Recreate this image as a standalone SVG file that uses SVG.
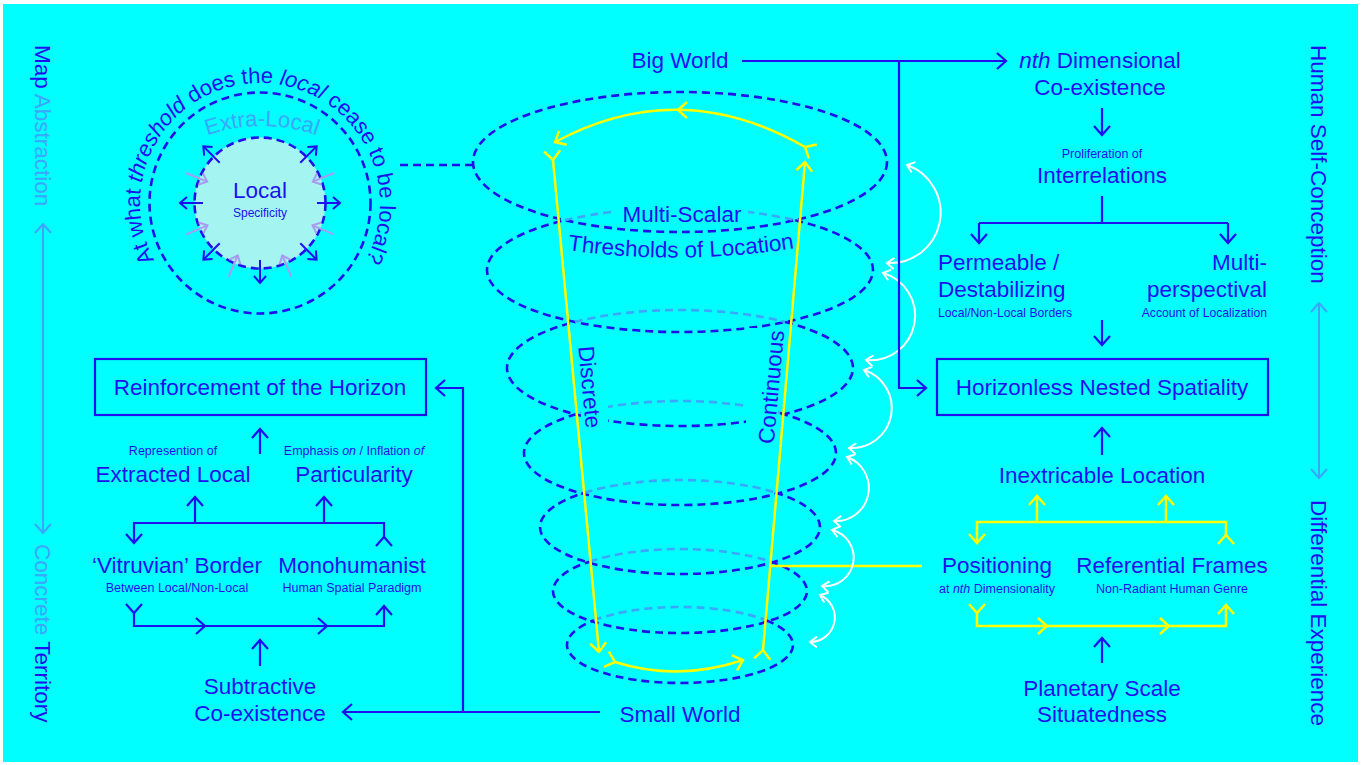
<svg xmlns="http://www.w3.org/2000/svg" width="1366" height="765" viewBox="0 0 1366 765">
<defs>
<style>
text{font-family:"Liberation Sans",Arial,Helvetica,sans-serif;fill:#2010f0}
.L{font-size:22.5px}
.s{font-size:12.5px}
.t{font-size:12.2px}
.m{text-anchor:middle}
.e{text-anchor:end}
.lt{fill:#3aa6ff}
.i{font-style:italic}
.c{fill:none;stroke:#2010f0;stroke-width:2.2}
.y{fill:none;stroke:#ffff00;stroke-width:2.5}
.w{fill:none;stroke:#ffffff;stroke-width:2}
.d{fill:none;stroke:#2010f0;stroke-width:2.6;stroke-dasharray:8 5}
.dl{fill:none;stroke:#3aa6ff;stroke-width:2.6;stroke-dasharray:8 5}
.ko{fill:#00ffff}
</style>
<marker id="mb" markerUnits="userSpaceOnUse" orient="auto" overflow="visible"><path d="M-9,-8 L0,0 L-9,8" fill="none" stroke="#2010f0" stroke-width="2.2"/></marker>
<marker id="my" markerUnits="userSpaceOnUse" orient="auto" overflow="visible"><path d="M-9,-8 L0,0 L-9,8" fill="none" stroke="#ffff00" stroke-width="2.5"/></marker>
<marker id="mw" markerUnits="userSpaceOnUse" orient="auto-start-reverse" overflow="visible"><path d="M-7,-5.5 L0,0 L-7,5.5" fill="none" stroke="#ffffff" stroke-width="2"/></marker>
<marker id="ml" markerUnits="userSpaceOnUse" orient="auto-start-reverse" overflow="visible"><path d="M-9,-8 L0,0 L-9,8" fill="none" stroke="#3aa6ff" stroke-width="2"/></marker>
<marker id="mc" markerUnits="userSpaceOnUse" orient="auto" overflow="visible"><path d="M-7,-6 L0,0 L-7,6" fill="none" stroke="#2010f0" stroke-width="2"/></marker>
<marker id="mp" markerUnits="userSpaceOnUse" orient="auto" overflow="visible"><path d="M-7,-6 L0,0 L-7,6" fill="none" stroke="#a99cf0" stroke-width="2"/></marker>
<path id="qp" d="M260,323 A120,120 0 1 1 260,83 A120,120 0 1 1 260,323"/>
<path id="xp" d="M97,291 A165,165 0 0 1 427,291"/>
<path id="tp" d="M560,249 Q680,267 802,247"/>
</defs>

<rect width="1366" height="765" fill="#ffffff"/>
<rect x="3" y="4" width="1355" height="758" fill="#00ffff"/>

<!-- side scales -->
<g id="scale-left">
  <text class="L" transform="translate(35,45) rotate(90)">Map<tspan class="lt"> Abstraction</tspan></text>
  <path d="M43,224 V533" fill="none" stroke="#3aa6ff" stroke-width="2" marker-start="url(#ml)" marker-end="url(#ml)"/>
  <text class="L" transform="translate(35,544) rotate(90)"><tspan class="lt">Concrete </tspan>Territory</text>
</g>
<g id="scale-right">
  <text class="L" transform="translate(1311,45) rotate(90)">Human Self-Conception</text>
  <path d="M1319,303 V478" fill="none" stroke="#3aa6ff" stroke-width="2" marker-start="url(#ml)" marker-end="url(#ml)"/>
  <text class="L" transform="translate(1311,500) rotate(90)">Differential Experience</text>
</g>

<!-- stacked thresholds: front arcs dark, hidden back arcs light -->
<g id="thresholds">
  <ellipse cx="680" cy="162" rx="207" ry="70" class="d"/>
  <path class="d" d="M795,220.2 A193,62 0 1 1 565,220.2"/>
  <path class="dl" d="M565,220.2 A193,62 0 0 1 795,220.2"/>
  <path class="d" d="M785,321.9 A173,58 0 1 1 575,321.9"/>
  <path class="dl" d="M575,321.9 A173,58 0 0 1 785,321.9"/>
  <path class="d" d="M780,413.1 A156,52 0 1 1 580,413.1"/>
  <path class="dl" d="M580,413.1 A156,52 0 0 1 780,413.1"/>
  <path class="d" d="M775,492.5 A140,47 0 1 1 585,492.5"/>
  <path class="dl" d="M585,492.5 A140,47 0 0 1 775,492.5"/>
  <path class="d" d="M770,561.4 A127,42 0 1 1 590,561.4"/>
  <path class="dl" d="M590,561.4 A127,42 0 0 1 770,561.4"/>
  <path class="d" d="M766,620.3 A113,38 0 1 1 594,620.3"/>
  <path class="dl" d="M594,620.3 A113,38 0 0 1 766,620.3"/>
  <!-- label backdrops -->
  <rect class="ko" x="614" y="201" width="134" height="25"/>
  <rect class="ko" x="581" y="338" width="27" height="96"/>
  <rect class="ko" x="746" y="328" width="32" height="120"/>
  <text class="L m" x="682" y="222">Multi-Scalar</text>
  <text class="L"><textPath href="#tp" startOffset="50%" text-anchor="middle">Thresholds of Location</textPath></text>
  <text class="L m" transform="translate(590,387) rotate(84.6)" dy="8">Discrete</text>
  <text class="L m" transform="translate(771,387) rotate(-84.7)" dy="8">Continuous</text>
</g>

<!-- local / extra-local circle -->
<g id="local-circle">
  <circle cx="260" cy="203" r="110.5" class="d"/>
  <circle cx="260" cy="203" r="65.5" fill="#a4f5f2" stroke="#2010f0" stroke-width="2.6" stroke-dasharray="8 5"/>
  <text font-size="22px"><textPath href="#qp" startOffset="50%" text-anchor="middle">At what <tspan class="i">threshold</tspan> does the <tspan class="i">local</tspan> cease to be local?</textPath></text>
  <text font-size="22px" class="lt"><textPath href="#xp" startOffset="50%" text-anchor="middle" class="lt">Extra-Local</textPath></text>
  <text class="L m" x="260" y="198">Local</text>
  <text class="m" font-size="12px" x="260" y="217">Specificity</text>
  <g fill="none" stroke="#2010f0" stroke-width="2" marker-end="url(#mc)">
    <path d="M317,203 L340,203"/>
    <path d="M300.3,243.3 L316.6,259.6"/>
    <path d="M260,260 L260,283"/>
    <path d="M219.7,243.3 L203.4,259.6"/>
    <path d="M203,203 L180,203"/>
    <path d="M219.7,162.7 L203.4,146.4"/>
    <path d="M300.3,162.7 L316.6,146.4"/>
  </g>
  <g fill="none" stroke="#a99cf0" stroke-width="2" marker-end="url(#mp)">
    <path d="M333.6,234.3 L312.5,225.3"/>
    <path d="M186.4,234.3 L207.5,225.3"/>
    <path d="M185.8,173 L207.2,181.6"/>
    <path d="M334.2,173 L312.8,181.6"/>
    <path d="M291.3,276.7 L282.3,255.5"/>
    <path d="M228.7,276.7 L237.7,255.5"/>
  </g>
</g>

<!-- nodes -->
<g id="big-world"><text class="L m" x="680" y="68">Big World</text></g>
<g id="small-world"><text class="L m" x="680" y="722">Small World</text></g>

<g id="nth-dimensional"><text class="L m" x="1100" y="68"><tspan class="i">nth</tspan> Dimensional</text><text class="L m" x="1100" y="95">Co-existence</text></g>
<g id="interrelations"><text class="s m" x="1102" y="158">Proliferation of</text><text class="L m" x="1102" y="183">Interrelations</text></g>
<g id="permeable"><text class="L" x="938" y="270">Permeable /</text><text class="L" x="938" y="297">Destabilizing</text><text class="t" x="938" y="317">Local/Non-Local Borders</text></g>
<g id="multi-perspectival"><text class="L e" x="1267" y="270">Multi-</text><text class="L e" x="1267" y="297">perspectival</text><text class="t e" x="1267" y="317">Account of Localization</text></g>
<g id="horizonless"><rect x="937" y="359" width="331" height="56" class="c"/><text class="L m" x="1102" y="395">Horizonless Nested Spatiality</text></g>
<g id="inextricable"><text class="L m" x="1102" y="483">Inextricable Location</text></g>
<g id="positioning"><text class="L m" x="997" y="573">Positioning</text><text class="s m" x="997" y="593">at <tspan class="i">nth</tspan> Dimensionality</text></g>
<g id="referential"><text class="L m" x="1172" y="573">Referential Frames</text><text class="s m" x="1172" y="593">Non-Radiant Human Genre</text></g>
<g id="planetary"><text class="L m" x="1102" y="696">Planetary Scale</text><text class="L m" x="1102" y="722">Situatedness</text></g>

<g id="reinforcement"><rect x="95" y="359" width="331" height="56" class="c"/><text class="L m" x="260" y="395">Reinforcement of the Horizon</text></g>
<g id="extracted-local"><text class="s m" x="173" y="455">Represention of</text><text class="L m" x="173" y="482">Extracted Local</text></g>
<g id="particularity"><text class="s m" x="354" y="455">Emphasis <tspan class="i">on</tspan> / Inflation <tspan class="i">of</tspan></text><text class="L m" x="354" y="482">Particularity</text></g>
<g id="vitruvian"><text class="L m" x="177" y="573">‘Vitruvian’ Border</text><text class="s m" x="177" y="592">Between Local/Non-Local</text></g>
<g id="monohumanist"><text class="L m" x="352" y="573">Monohumanist</text><text class="s m" x="352" y="592">Human Spatial Paradigm</text></g>
<g id="subtractive"><text class="L m" x="260" y="694">Subtractive</text><text class="L m" x="260" y="721">Co-existence</text></g>

<!-- connectors -->
<g id="connectors">
  <g class="y">
    <path d="M553,160 L599,652" marker-start="url(#my)" marker-end="url(#my)"/>
    <path d="M763,650 L805,162" marker-start="url(#my)" marker-end="url(#my)"/>
    <path d="M805,147 Q680,75 555,142" marker-start="url(#my)" marker-end="url(#my)"/>
    <path d="M687,102 L678,110 L687,118"/>
    <path d="M615,662 Q678,682 743,660" marker-start="url(#my)" marker-end="url(#my)"/>
    <path d="M770,566 H922"/>
    <path d="M1226,535 V522 H977 V543" marker-start="url(#my)" marker-end="url(#my)"/>
    <path d="M1037,522 V496" marker-end="url(#my)"/>
    <path d="M1166,522 V496" marker-end="url(#my)"/>
    <path d="M977,613 V626 H1047" marker-start="url(#my)" marker-end="url(#my)"/>
    <path d="M1047,626 H1169" marker-end="url(#my)"/>
    <path d="M1169,626 H1226 V605" marker-end="url(#my)"/>
  </g>
  <g class="w" marker-start="url(#mw)" marker-end="url(#mw)">
    <path d="M907,165 A50.5,50.5 0 0 1 887,263"/>
    <path d="M883,273 A44.5,44.5 0 0 1 866,360"/>
    <path d="M864,370 A40,40 0 0 1 849,448"/>
    <path d="M847,457 A33,33 0 0 1 834,521"/>
    <path d="M832,530 A28.5,28.5 0 0 1 822,586"/>
    <path d="M820,595 A24.5,24.5 0 0 1 810,642"/>
  </g>
  <path class="d" d="M400,165 H473"/>
  <g class="c">
    <path d="M742,61 H1006" marker-end="url(#mb)"/>
    <path d="M899,61 V388 H926" marker-end="url(#mb)"/>
    <path d="M600,712 H343" marker-end="url(#mb)"/>
    <path d="M463,712 V388 H436" marker-end="url(#mb)"/>
    <path d="M1102,108 V135" marker-end="url(#mb)"/>
    <path d="M1102,196 V223"/>
    <path d="M979,223 H1228"/>
    <path d="M979,223 V243" marker-end="url(#mb)"/>
    <path d="M1228,223 V243" marker-end="url(#mb)"/>
    <path d="M1102,320 V345" marker-end="url(#mb)"/>
    <path d="M1102,455 V428" marker-end="url(#mb)"/>
    <path d="M1102,663 V638" marker-end="url(#mb)"/>
    <path d="M260,454 V429" marker-end="url(#mb)"/>
    <path d="M195,523 V497" marker-end="url(#mb)"/>
    <path d="M324,523 V497" marker-end="url(#mb)"/>
    <path d="M384,537 V523 H134 V543" marker-start="url(#mb)" marker-end="url(#mb)"/>
    <path d="M134,613 V626 H205" marker-start="url(#mb)" marker-end="url(#mb)"/>
    <path d="M205,626 H327" marker-end="url(#mb)"/>
    <path d="M327,626 H384 V606" marker-end="url(#mb)"/>
    <path d="M260,666 V640" marker-end="url(#mb)"/>
  </g>
</g>
</svg>
